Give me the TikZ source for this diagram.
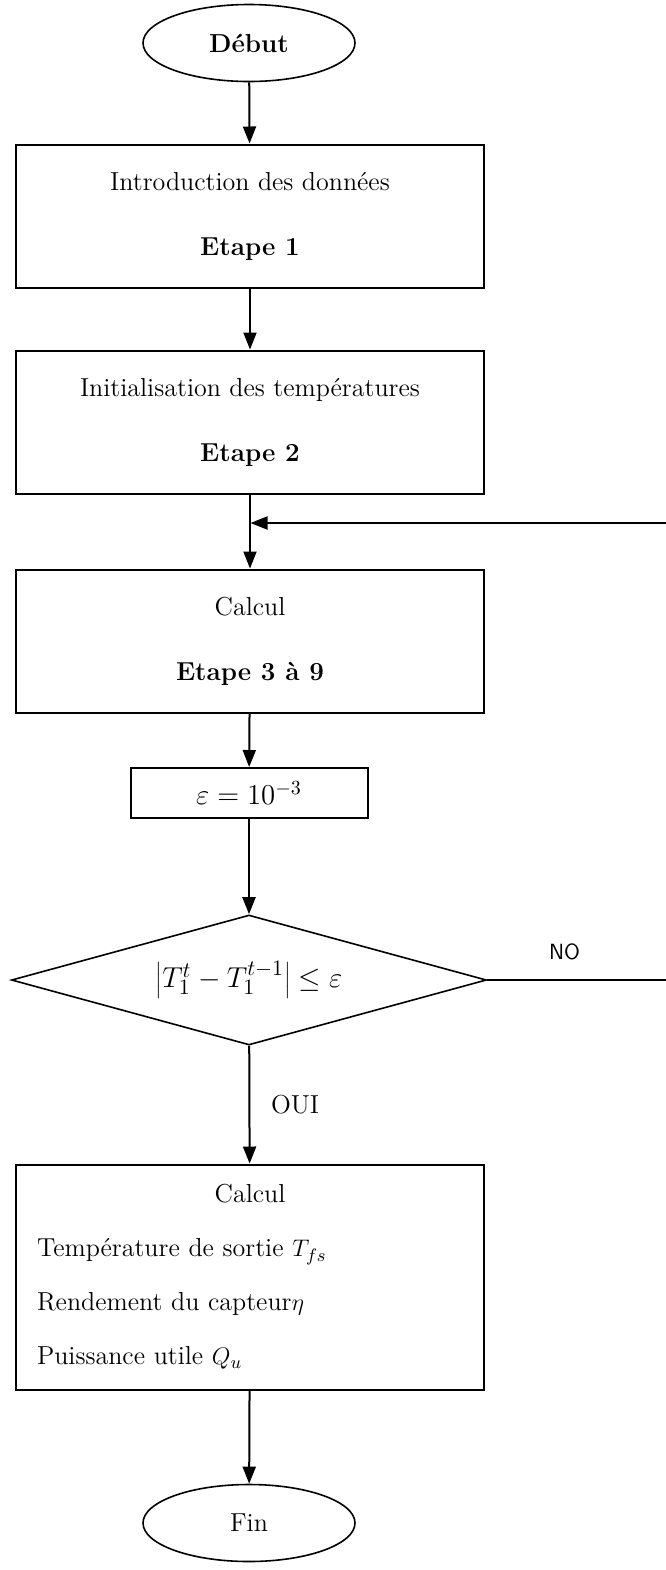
\documentclass[tikz,border=0pt]{standalone}
\usetikzlibrary{shapes.geometric,arrows.meta}
\begin{document}
\begin{tikzpicture}[x=0.5pt,y=-0.5pt,
	every node/.style={font=\fontsize{13}{15}\selectfont},
	box/.style={draw, line width=1pt, minimum width=234pt, minimum height=71.5pt, align=center, inner sep=0pt},
	term/.style={draw, line width=0.8pt, ellipse, minimum width=106pt, minimum height=38.5pt, inner sep=0pt},
	test/.style={draw, line width=0.8pt, diamond, aspect=3.65, minimum width=237.5pt, minimum height=65pt, inner sep=0pt},
	flow/.style={line width=1pt, -{Triangle[width=6.5pt,length=8.5pt]}}]
		\useasboundingbox (0,0) rectangle (665,1570);
		\node[term](debut) at (249,43) {\textbf{Début}};
		\node[box](etape1) at (250,216) {Introduction des données\\[17.5pt]\textbf{Etape 1}};
		\node[box](etape2) at (250,422) {Initialisation des températures\\[17.5pt]\textbf{Etape 2}};
		\node[box](etape3) at (250,641) {Calcul\\[17.5pt]\textbf{Etape 3 à 9}};
		\node[box, minimum width=118.5pt, minimum height=25pt, font=\fontsize{14}{16}\selectfont](eps) at (249,793) {$\varepsilon = 10^{-3}$};
		\node[test, font=\fontsize{15}{17}\selectfont](test) at (249,980) {$\left|T_1^t - T_1^{t-1}\right| \le \varepsilon$};
		\node[box, minimum height=112.5pt, text width=213pt, inner xsep=10.5pt, align=left](resultat) at (250,1277)
			{\makebox[213pt]{Calcul}\\[12pt]
			Température de sortie $T_{fs}$\\[12pt]
			Rendement du capteur$\eta$\\[12pt]
			Puissance utile $Q_u$};
		\node[term](fin) at (249,1523) {Fin};
		\coordinate (coin) at (667,980);
		\coordinate (retour) at (667,523);
		\coordinate (entree) at (250.5,523);
		% chaine principale
		\draw[flow] (debut) -- (etape1);
		\draw[flow] (etape1) -- (etape2);
		\draw[flow] (etape2) -- (etape3);
		\draw[flow] (etape3) -- (eps);
		\draw[flow] (eps) -- (test);
		\draw[flow] (test) -- node[right, xshift=7pt]{OUI} (resultat);
		\draw[flow] (resultat) -- (fin);
		% boucle de convergence
		\draw[flow] (test.east) -- node[above, pos=0.43, yshift=6pt, font=\fontsize{11}{13}\sffamily]{NO} (coin) -- (retour) -- (entree);
\end{tikzpicture}
\end{document}
